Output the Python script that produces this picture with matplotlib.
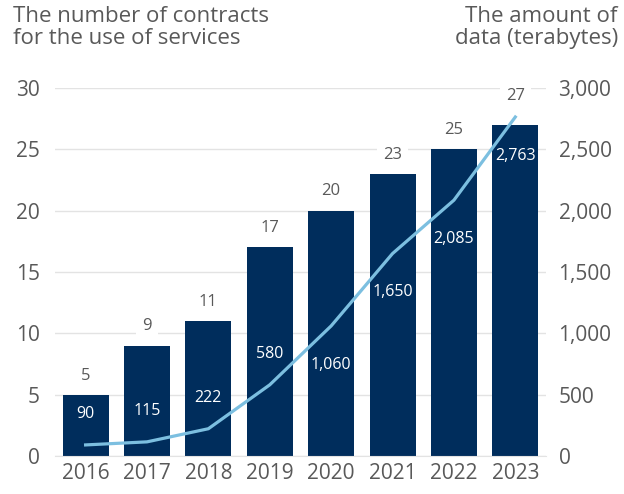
import matplotlib.pyplot as plt
from matplotlib.ticker import FuncFormatter

plt.rcParams.update({
    "font.family": ["Open Sans", "DejaVu Sans"],
    "text.color": "#595959",
    "xtick.color": "#595959",
    "ytick.color": "#595959",
})

years = ["2016", "2017", "2018", "2019", "2020", "2021", "2022", "2023"]
contracts = [5, 9, 11, 17, 20, 23, 25, 27]
terabytes = [90, 115, 222, 580, 1060, 1650, 2085, 2763]

BAR = "#002D5C"
LINE = "#7CBFE0"
GRID = "#E3E3E3"

fig = plt.figure(figsize=(6.24, 4.94), dpi=100)
ax = fig.add_axes([0.088, 0.077, 0.787, 0.745])
ax2 = ax.twinx()

x = range(len(years))
ax.bar(x, contracts, width=0.75, color=BAR, zorder=2)
ax.set_ylim(0, 30)
ax.set_yticks(range(0, 31, 5))
ax.set_xlim(-0.5, len(years) - 0.5)
ax.set_xticks(list(x))
ax.set_xticklabels(years)
ax.grid(axis="y", color=GRID, linewidth=1.0, zorder=0)
ax.set_axisbelow(True)

for i, v in enumerate(contracts):
    # last label lifted so the line does not run through it
    off = 8 if i < len(contracts) - 1 else 15
    ax.annotate(str(v), (i, v), xytext=(0, off), textcoords="offset points",
                ha="center", va="bottom", fontsize=12, color="#595959", zorder=4,
                bbox=dict(boxstyle="square,pad=0.35", fc="white", ec="none"))

ax2.plot(list(x), terabytes, color=LINE, linewidth=2.3, zorder=3)
ax2.set_ylim(0, 3000)
ax2.set_yticks(range(0, 3001, 500))
ax2.yaxis.set_major_formatter(FuncFormatter(lambda v, p: f"{int(v):,}"))

# labels above the line for the early years, below it later on
for i, v in enumerate(terabytes):
    dy = 22 if i < 4 else -28
    ax2.annotate(f"{v:,}", (i, v), xytext=(0, dy), textcoords="offset points",
                 ha="center", va="center", fontsize=11.5, color="white", zorder=5)

for a in (ax, ax2):
    for s in a.spines.values():
        s.set_visible(False)
    a.tick_params(length=0, labelsize=15)
ax.tick_params(axis="y", pad=11)
ax.tick_params(axis="x", pad=5)
ax2.tick_params(axis="y", pad=9)
ax.spines["bottom"].set_visible(True)
ax.spines["bottom"].set_color(GRID)

fig.text(0.021, 0.988, "The number of contracts\nfor the use of services",
         ha="left", va="top", fontsize=16, linespacing=1.08)
fig.text(0.99, 0.988, "The amount of\ndata (terabytes)",
         ha="right", va="top", fontsize=16, linespacing=1.08)

fig.savefig("out.png", dpi=100, facecolor="white")
